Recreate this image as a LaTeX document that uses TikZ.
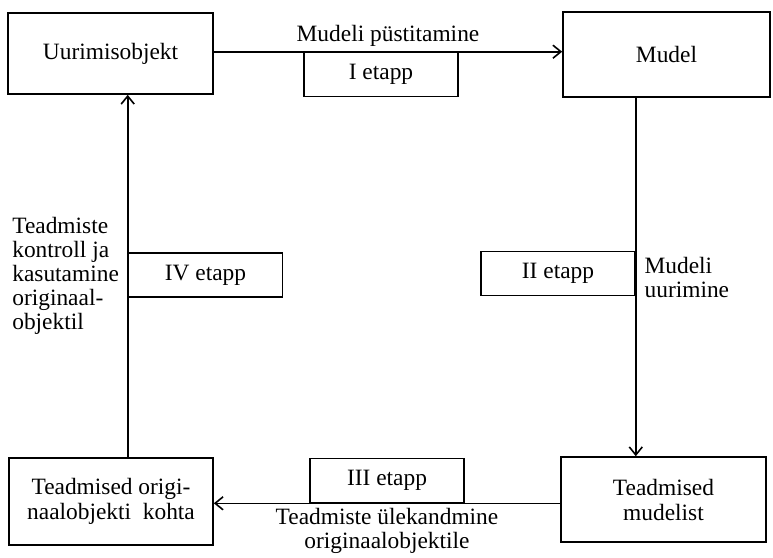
\documentclass[tikz,border=0pt]{standalone}
\usepackage{fontspec}
\setmainfont{Liberation Serif}
\usetikzlibrary{arrows.meta,positioning}

\begin{document}
\begin{tikzpicture}[
    x=0.5pt, y=-0.5pt,
    block/.style={draw, rectangle, line width=0.8pt, inner sep=0pt, align=center, font=\fontsize{11.7}{12.5}\selectfont},
    stage/.style={draw, rectangle, line width=0.8pt, inner sep=0pt, minimum width=77pt, minimum height=22pt, font=\fontsize{11.7}{12.5}\selectfont},
    note/.style={inner sep=1pt, font=\fontsize{11.7}{12}\selectfont},
    flow/.style={line width=0.8pt, -{Straight Barb[length=4pt,width=6.5pt]}}]

    \useasboundingbox (0,0) rectangle (773,558);

    % Nodes
    \node[block, minimum width=102.5pt, minimum height=40.5pt] (UO) at (110.5,53.5) {Uurimisobjekt};
    \node[block, minimum width=103.5pt, minimum height=42.5pt] (MD) at (666.5,54.5) {Mudel};
    \node[block, minimum width=102pt, minimum height=43.5pt] (TO) at (111,501.5) {Teadmised origi-\\naalobjekti\ \ kohta};
    \node[block, minimum width=102.5pt, minimum height=42.5pt] (TM) at (663.5,499.5) {Teadmised\\mudelist};
    \node[stage] (E1) at (381,74.5) {I etapp};
    \node[stage] (E2) at (558,273.5) {II etapp};
    \node[stage] (E3) at (387,480.5) {III etapp};
    \node[stage] (E4) at (205.5,275) {IV etapp};

    % Arcs
    \draw[flow] (UO.east |- E1.north) -- node[note, above=1pt] {Mudeli püstitamine} (MD.west |- E1.north);
    \draw[flow] (MD.south -| E2.east) -- node[note, right=3pt, align=left] {Mudeli\\uurimine} (TM.north -| E2.east);
    \draw[flow] (TM.west |- E3.south) -- node[note, below=1pt, align=center] {Teadmiste ülekandmine\\originaalobjektile} (TO.east |- E3.south);
    \draw[flow] (TO.north -| E4.west) -- node[note, left=3pt, align=left] {Teadmiste\\kontroll ja\\kasutamine\\originaal-\\objektil} (UO.south -| E4.west);
\end{tikzpicture}
\end{document}
